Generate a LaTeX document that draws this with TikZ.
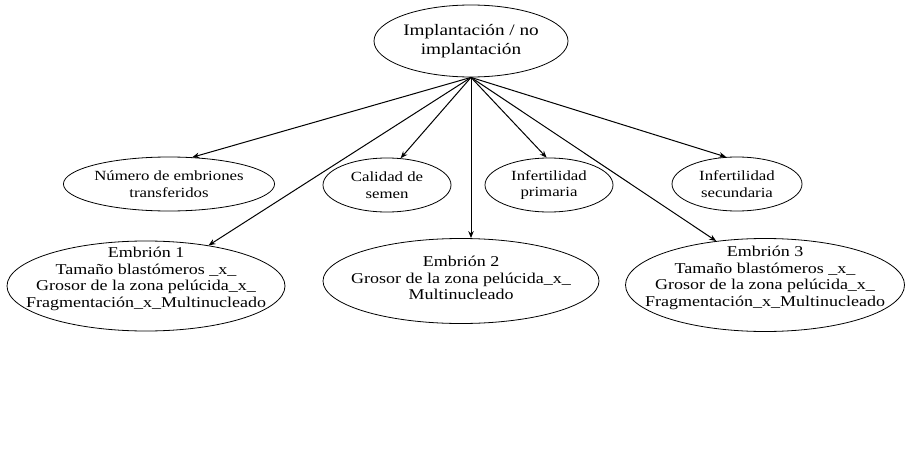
\documentclass[tikz,border=0pt]{standalone}
\usepackage{fontspec}
\setmainfont[FakeStretch=1.2]{Liberation Serif}
\usetikzlibrary{shapes.geometric}
\usetikzlibrary{arrows.meta}

\begin{document}
\begin{tikzpicture}[x=1pt, y=1pt,
		ovalo/.style={ellipse, draw=black, line width=0.8pt, inner sep=0pt, align=center},
		texto/.style={inner sep=0pt, align=center, font=\fontsize{15}{16.7}\selectfont},
		flecha/.style={-{Stealth[length=7pt, width=5.5pt]}, line width=1pt}]
				\useasboundingbox (0,0) rectangle (907,459);
				\node[ovalo, minimum width=194pt, minimum height=72pt, font=\fontsize{16}{18.3}\selectfont] (impl) at (471,418) {Implantación / no\\implantación};
				\begin{scope}[every node/.append style={font=\fontsize{14}{16.5}\selectfont, minimum height=54pt}]
					\node[ovalo, minimum width=206pt] (num) at (169,275) {Número de embriones\\transferidos};
					\node[ovalo, minimum width=128pt] (cal) at (387,274) {Calidad de\\semen};
					\node[ovalo, minimum width=128pt] (pri) at (549,274) {Infertilidad\\primaria};
					\node[ovalo, minimum width=130pt] (sec) at (737,275) {Infertilidad\\secundaria};
				\end{scope}
				\node[ovalo, minimum width=278pt, minimum height=90pt] (e1) at (146,173) {};
				\node[ovalo, minimum width=276pt, minimum height=85pt] (e2) at (461,178) {};
				\node[ovalo, minimum width=279pt, minimum height=93pt] (e3) at (765,174) {};
				\node[texto] (e1t) at ([yshift=7pt]e1.center) {Embrión 1\\Tamaño blastómeros \_x\_\\Grosor de la zona pelúcida\_x\_\\Fragmentación\_x\_Multinucleado};
				\node[texto] (e2t) at ([yshift=3pt]e2.center) {Embrión 2\\Grosor de la zona pelúcida\_x\_\\Multinucleado};
				\node[texto] (e3t) at ([yshift=7pt]e3.center) {Embrión 3\\Tamaño blastómeros \_x\_\\Grosor de la zona pelúcida\_x\_\\Fragmentación\_x\_Multinucleado};
				\draw[flecha] (impl.south) -- (num.49);
				\draw[flecha] (impl.south) -- (cal.63);
				\draw[flecha] (impl.south) -- (pri.95);
				\draw[flecha] (impl.south) -- (sec.112);
				\draw[flecha] (impl.south) -- (e1.33);
				\draw[flecha] (impl.south) -- (impl.south |- e2.north);
				\draw[flecha] (impl.south) -- (e3.138);
		\end{tikzpicture}
\end{document}
